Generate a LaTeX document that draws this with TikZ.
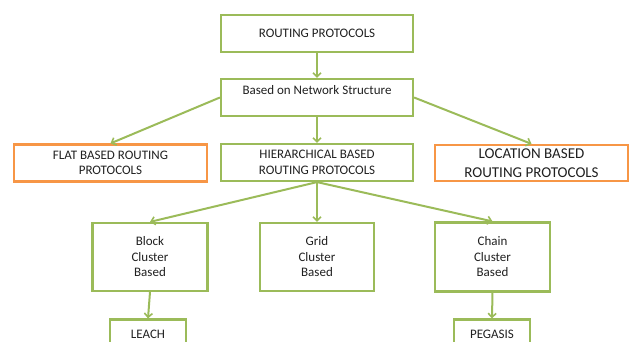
\documentclass[tikz,border=0pt]{standalone}
\usepackage{fontspec}
\setmainfont{Carlito}
\usetikzlibrary{arrows.meta}
\definecolor{boxgreen}{HTML}{9BBB59}
\definecolor{boxorange}{HTML}{F79646}
\definecolor{txt}{HTML}{202020}
\begin{document}
\begin{tikzpicture}[x=1pt,y=-1pt,
  box/.style={draw,line width=2.2pt,align=center,text=txt,font=\fontsize{13}{15.5}\selectfont,inner sep=2pt},
  greenbox/.style={box,draw=boxgreen},
  orangebox/.style={box,draw=boxorange},
  link/.style={draw=boxgreen,line width=2pt,-{Straight Barb[length=4pt,width=8pt,line width=1.6pt]}}]
\useasboundingbox (0,0) rectangle (630,342);
\clip (0,0) rectangle (630,342);

% top levels
\node[greenbox,minimum width=192pt,minimum height=37pt] (routing) at (317,33.5) {ROUTING PROTOCOLS};
\node[greenbox,minimum width=192pt,minimum height=37pt,text height=12pt,text depth=17pt] (based) at (317,97.5) {Based on Network Structure};

\node[orangebox,minimum width=193pt,minimum height=37pt] (flat) at (110.5,163) {FLAT BASED ROUTING\\PROTOCOLS};
\node[greenbox,minimum width=192pt,minimum height=37pt] (hier) at (317,162.5) {HIERARCHICAL BASED\\ROUTING PROTOCOLS};
\node[orangebox,minimum width=193pt,minimum height=36pt,font=\fontsize{15}{19}\selectfont] (location) at (531.5,163) {LOCATION BASED\\ROUTING PROTOCOLS};

% cluster boxes
\node[greenbox,minimum width=115pt,minimum height=68pt] (block) at (150,257) {Block\\Cluster\\Based};
\node[greenbox,minimum width=114pt,minimum height=68pt] (grid) at (317,257) {Grid\\Cluster\\Based};
\node[greenbox,minimum width=115pt,minimum height=69pt] (chain) at (492.5,257) {Chain\\Cluster\\Based};

\node[greenbox,minimum width=76pt,minimum height=30pt] (leach) at (148,334.5) {LEACH};
\node[greenbox,minimum width=76pt,minimum height=30pt] (pegasis) at (492,334.5) {PEGASIS};

\draw[link] (routing) -- (based);
\draw[link] (based.west) -- (flat.north);
\draw[link] (based.east) -- (location.north);
\draw[link] (based) -- (hier);
\draw[link] (hier.south) -- (block.north);
\draw[link] (hier.south) -- (grid.north);
\draw[link] (hier.south) -- (chain.north);
\draw[link] (block.south) -- (leach.north);
\draw[link] (chain.south) -- (pegasis.north);

\end{tikzpicture}
\end{document}
